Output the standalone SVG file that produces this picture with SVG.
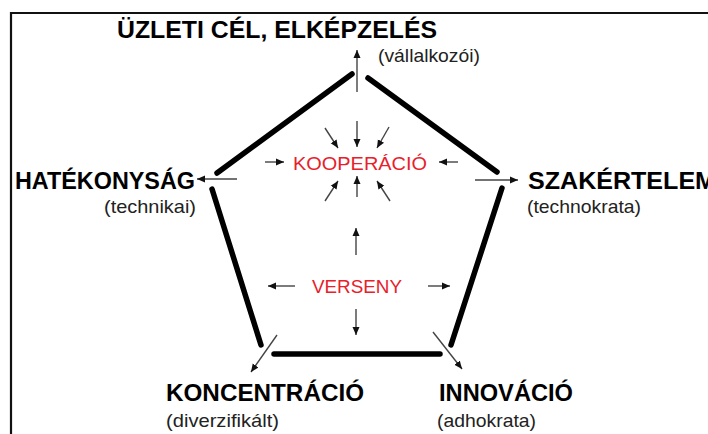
<svg xmlns="http://www.w3.org/2000/svg" width="708" height="434" viewBox="0 0 708 434">
<defs>
<marker id="ah" markerUnits="userSpaceOnUse" markerWidth="9" markerHeight="8" refX="8" refY="4" orient="auto"><path d="M0,0.5 L8,4 L0,7.5 Z" fill="#111"/></marker>
<style>
.frame{fill:none;stroke:#111;stroke-width:2.2}
.edge{stroke:#000;stroke-width:5.5;stroke-linecap:round;fill:none}
.arr{stroke:#444;stroke-width:1.4;fill:none;marker-end:url(#ah)}
.big{font-family:"Liberation Sans",Arial,sans-serif;font-weight:bold;font-size:24px;fill:#000}
.sub{font-family:"Liberation Sans",Arial,sans-serif;font-size:19px;fill:#222}
.red{font-family:"Liberation Sans",Arial,sans-serif;font-size:19px;fill:#e8202a}
</style>
</defs>
<rect width="708" height="434" fill="#fff"/>
<path class="frame" d="M11,434 L11,13 L708,13"/>
<g id="connectors">
<line class="edge" x1="217" y1="173" x2="352" y2="74"/>
<line class="edge" x1="368" y1="78" x2="497" y2="172"/>
<line class="edge" x1="212" y1="189" x2="261" y2="345"/>
<line class="edge" x1="502" y1="188" x2="451" y2="345"/>
<line class="edge" x1="274" y1="354" x2="440" y2="354"/>
<line class="arr" x1="357" y1="92" x2="357" y2="50"/>
<line class="arr" x1="237" y1="179" x2="197" y2="179"/>
<line class="arr" x1="475" y1="180" x2="518" y2="180"/>
<line class="arr" x1="277" y1="335" x2="251" y2="372"/>
<line class="arr" x1="433" y1="332" x2="462" y2="369"/>
<line class="arr" x1="357" y1="121" x2="357" y2="147"/>
<line class="arr" x1="325" y1="128" x2="338" y2="148"/>
<line class="arr" x1="389" y1="127" x2="377" y2="148"/>
<line class="arr" x1="265" y1="162" x2="284" y2="162"/>
<line class="arr" x1="458" y1="162" x2="439" y2="162"/>
<line class="arr" x1="357" y1="197" x2="357" y2="176"/>
<line class="arr" x1="325" y1="201" x2="338" y2="181"/>
<line class="arr" x1="390" y1="201" x2="377" y2="181"/>
<line class="arr" x1="356" y1="255" x2="356" y2="228"/>
<line class="arr" x1="295" y1="286" x2="268" y2="286"/>
<line class="arr" x1="428" y1="286" x2="450" y2="286"/>
<line class="arr" x1="356" y1="309" x2="356" y2="335"/>
</g>
<g id="uzleti">
<text class="big" x="117" y="38" textLength="320" lengthAdjust="spacingAndGlyphs">ÜZLETI CÉL, ELKÉPZELÉS</text>
<text class="sub" x="378" y="62" textLength="102" lengthAdjust="spacingAndGlyphs">(vállalkozói)</text>
</g>
<g id="hatekonysag">
<text class="big" x="15" y="189" textLength="180" lengthAdjust="spacingAndGlyphs">HATÉKONYSÁG</text>
<text class="sub" x="104" y="213" textLength="92" lengthAdjust="spacingAndGlyphs">(technikai)</text>
</g>
<g id="szakertelem">
<text class="big" x="528" y="189" textLength="188" lengthAdjust="spacingAndGlyphs">SZAKÉRTELEM</text>
<text class="sub" x="527" y="213" textLength="114" lengthAdjust="spacingAndGlyphs">(technokrata)</text>
</g>
<g id="koncentracio">
<text class="big" x="166" y="401" textLength="198" lengthAdjust="spacingAndGlyphs">KONCENTRÁCIÓ</text>
<text class="sub" x="166" y="427" textLength="113" lengthAdjust="spacingAndGlyphs">(diverzifikált)</text>
</g>
<g id="innovacio">
<text class="big" x="439" y="401" textLength="134" lengthAdjust="spacingAndGlyphs">INNOVÁCIÓ</text>
<text class="sub" x="437" y="427" textLength="99" lengthAdjust="spacingAndGlyphs">(adhokrata)</text>
</g>
<g id="kooperacio">
<text class="red" x="293" y="170" textLength="134" lengthAdjust="spacingAndGlyphs">KOOPERÁCIÓ</text>
</g>
<g id="verseny">
<text class="red" x="312" y="293" textLength="90" lengthAdjust="spacingAndGlyphs">VERSENY</text>
</g>
</svg>
